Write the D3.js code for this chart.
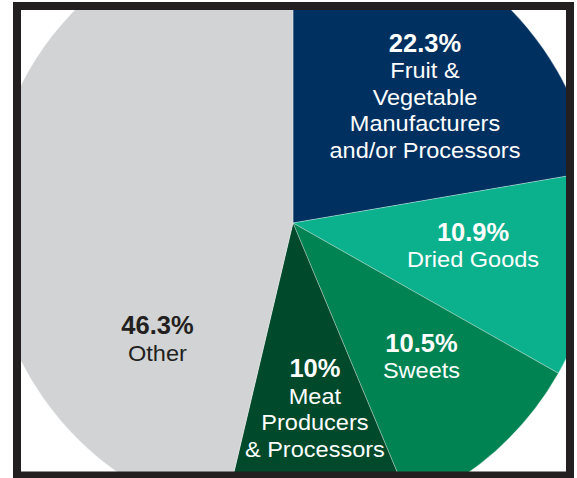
<!DOCTYPE html>
<html>
<head>
<meta charset="utf-8">
<script src="https://cdn.jsdelivr.net/npm/d3@7"></script>
<style>
  html, body { margin: 0; padding: 0; background: #fff; }
  svg { display: block; }
  text { font-family: "Liberation Sans", Arial, Helvetica, sans-serif; }
</style>
</head>
<body>
<svg id="chart" width="577" height="478"></svg>
<script>
// ---- data ----
const categories = ["Fruit & Vegetable Manufacturers and/or Processors", "Dried Goods", "Sweets", "Meat Producers & Processors", "Other"];
const values = [22.3, 10.9, 10.5, 10, 46.3];
const percentLabels = ["22.3%", "10.9%", "10.5%", "10%", "46.3%"];
const nameLines = [
  ["Fruit &", "Vegetable", "Manufacturers", "and/or Processors"],
  ["Dried Goods"],
  ["Sweets"],
  ["Meat", "Producers", "& Processors"],
  ["Other"]
];

// ---- style / layout ----
const colors = ["#00305f", "#0bb18d", "#008353", "#00492b", "#d1d3d4"];
const textColors = ["#ffffff", "#ffffff", "#ffffff", "#ffffff", "#231f20"];
const labelNudge = [[12.7, -29.9], [-2.2, -14.1], [5.7, -9.6], [6.8, -30.1], [48.2, 132.6]];
const W = 577, H = 478;
const cx = 293, cy = 223, R = 305;
const frame = { x: 21, y: 10, w: 545, h: 463 };

const svg = d3.select("#chart");

const defs = svg.append("defs");
defs.append("clipPath").attr("id", "frameClip")
  .append("rect").attr("x", frame.x).attr("y", frame.y).attr("width", frame.w).attr("height", frame.h);

const data = categories.map((c, i) => ({ category: c, value: values[i], i }));
const pie = d3.pie().value(d => d.value).sort(null);
const arcs = pie(data);
const arc = d3.arc().innerRadius(0).outerRadius(R);
const labelArc = d3.arc().innerRadius(185).outerRadius(185);

const g = svg.append("g").attr("clip-path", "url(#frameClip)");
const pg = g.append("g").attr("transform", `translate(${cx},${cy})`);

pg.selectAll("path.slice")
  .data(arcs)
  .join("path")
  .attr("class", "slice")
  .attr("d", arc)
  .attr("fill", d => colors[d.data.i])
  .attr("stroke", "rgba(255,255,255,0.5)")
  .attr("stroke-width", 0.6);

// labels
const lineH = 26.5;
const lbl = pg.selectAll("g.lbl")
  .data(arcs)
  .join("g")
  .attr("class", "lbl")
  .attr("transform", d => {
    const [x, y] = labelArc.centroid(d);
    const n = labelNudge[d.data.i];
    return `translate(${x + n[0]},${y + n[1]})`;
  });

lbl.append("text")
  .attr("text-anchor", "middle")
  .attr("font-weight", "bold")
  .attr("font-size", 25.5)
  .attr("fill", d => textColors[d.data.i])
  .text(d => percentLabels[d.data.i]);

lbl.each(function(d) {
  const gsel = d3.select(this);
  nameLines[d.data.i].forEach((line, k) => {
    gsel.append("text")
      .attr("text-anchor", "middle")
      .attr("font-size", 22)
      .attr("transform", `translate(0,${(k + 1) * lineH}) scale(1.07,1)`)
      .attr("fill", textColors[d.data.i])
      .text(line);
  });
});

// frame border
svg.append("rect")
  .attr("x", 17).attr("y", 6)
  .attr("width", 553).attr("height", 469.5)
  .attr("fill", "none")
  .attr("stroke", "#231f20")
  .attr("stroke-width", 8);
</script>
</body>
</html>
